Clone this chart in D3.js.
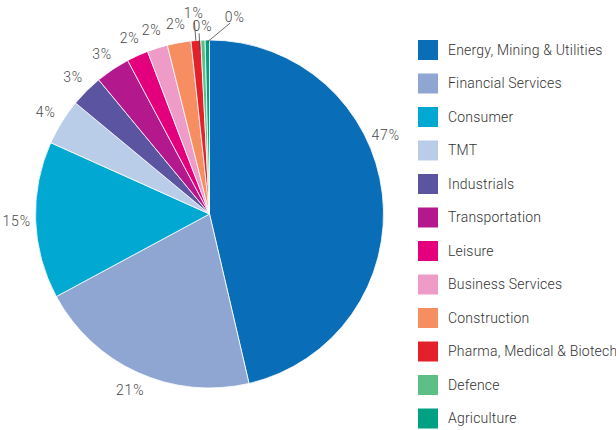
<!DOCTYPE html>
<html>
<head>
<meta charset="utf-8">
<script src="https://cdn.jsdelivr.net/npm/d3@7"></script>
<style>
    body { margin: 0; background: #fff; }
    svg text { font-family: Roboto, "Liberation Sans", sans-serif; }
</style>
</head>
<body>
<div id="chart"></div>
<script>
// Sector names, shares and printed labels
var sectors = ["Energy, Mining & Utilities", "Financial Services", "Consumer", "TMT",
    "Industrials", "Transportation", "Leisure", "Business Services", "Construction",
    "Pharma, Medical & Biotech", "Defence", "Agriculture"];
var shares = [46.4, 20.8, 14.6, 4.3, 3.0, 3.2, 2.0, 1.9, 2.2, 0.9, 0.4, 0.4];
var shareLabels = ["47%", "21%", "15%", "4%", "3%", "3%", "2%", "2%", "2%", "1%", "0%", "0%"];
var colors = ["#0a6db7", "#8fa6d2", "#00a8d2", "#b9cde9", "#5b54a1", "#b3188d",
    "#e4007d", "#ef9bc7", "#f68e62", "#e3202b", "#5cbf86", "#00a183"];

var width = 616, height = 430;
var cx = 209.5, cy = 214, radius = 174;

var svg = d3.select("#chart").append("svg")
    .attr("width", width)
    .attr("height", height);

var data = sectors.map(function(s, i) {
    return {name: s, value: shares[i], label: shareLabels[i], color: colors[i]};
});

var pie = d3.pie()
    .value(function(d) { return d.value; })
    .sort(null);

var arc = d3.arc().innerRadius(0).outerRadius(radius);

var arcs = pie(data);

var g = svg.append("g")
    .attr("transform", "translate(" + cx + "," + cy + ")");

g.selectAll("path.slice")
    .data(arcs)
    .enter().append("path")
    .attr("class", "slice")
    .attr("d", arc)
    .style("fill", function(d) { return d.data.color; })
    .style("stroke", "#fff")
    .style("stroke-width", 0.8);

// Label placement: mid angle by default, small tweaks for crowded slices
function labelSpot(d, i) {
    var a = (d.startAngle + d.endAngle) / 2, r = 193;
    if (i === 0) a = d.startAngle + 0.395 * (d.endAngle - d.startAngle);
    if (i === 9) r = 202;
    if (i === 10) r = 188;
    if (i === 11) { r = 199; a += 8 * Math.PI / 180; }
    return [r * Math.sin(a), -r * Math.cos(a)];
}

function polar(r, a) { return [r * Math.sin(a), -r * Math.cos(a)]; }

// Leader lines for the thinnest slices
var leaders = [
    {i: 9, from: [174, 0], to: [193, 0]},
    {i: 10, from: [164, -0.02], to: [181, -0.02]},
    {i: 11, from: [172, 0], to: [192, 0.12]}
];
leaders.forEach(function(l) {
    var d = arcs[l.i], mid = (d.startAngle + d.endAngle) / 2;
    var p1 = polar(l.from[0], mid + l.from[1]),
        p2 = polar(l.to[0], mid + l.to[1]);
    g.append("line")
        .attr("x1", p1[0]).attr("y1", p1[1])
        .attr("x2", p2[0]).attr("y2", p2[1])
        .style("stroke", "#444")
        .style("stroke-width", 0.8);
});

g.selectAll("text.pct")
    .data(arcs)
    .enter().append("text")
    .attr("class", "pct")
    .attr("x", function(d, i) { return labelSpot(d, i)[0]; })
    .attr("y", function(d, i) { return labelSpot(d, i)[1]; })
    .attr("dy", "0.35em")
    .attr("text-anchor", "middle")
    .style("font-size", "14px")
    .style("font-weight", 300)
    .style("letter-spacing", "0.8px")
    .style("fill", "#4a4a4a")
    .text(function(d) { return d.data.label; });

// Legend
var legend = svg.append("g")
    .attr("transform", "translate(418,40)");

var item = legend.selectAll("g.item")
    .data(data)
    .enter().append("g")
    .attr("class", "item")
    .attr("transform", function(d, i) { return "translate(0," + (i * 33.5) + ")"; });

item.append("rect")
    .attr("width", 20)
    .attr("height", 20)
    .style("fill", function(d) { return d.color; });

item.append("text")
    .attr("x", 30)
    .attr("y", 10)
    .attr("dy", "0.35em")
    .style("font-size", "14px")
    .style("font-weight", 300)
    .style("letter-spacing", "0.2px")
    .style("fill", "#333")
    .text(function(d) { return d.name; });
</script>
</body>
</html>
